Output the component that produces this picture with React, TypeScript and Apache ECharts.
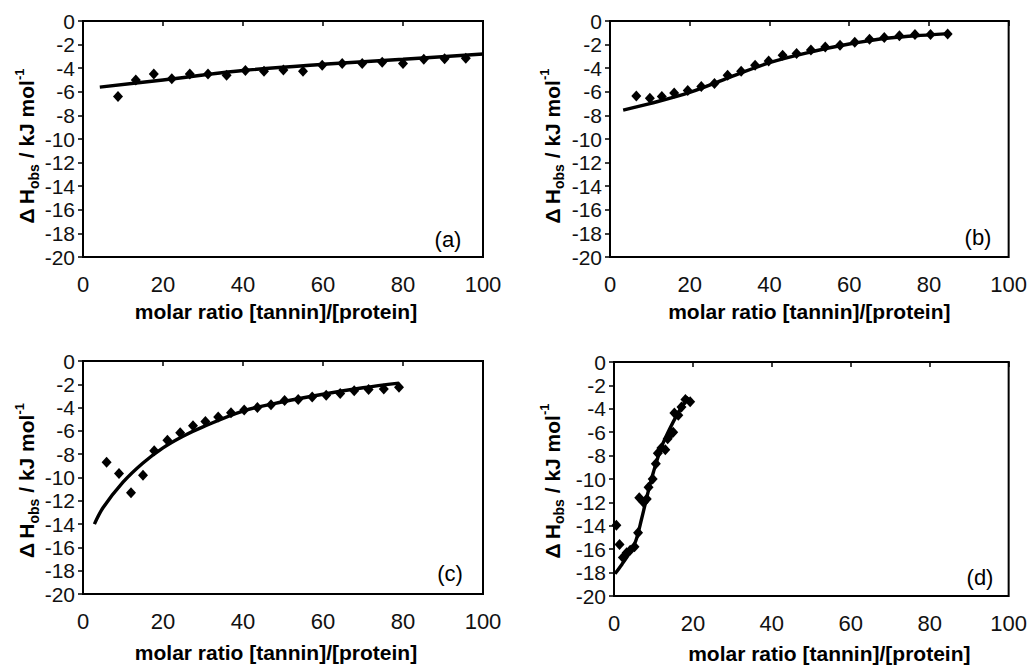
import React, { useEffect, useRef } from "react";
import * as echarts from "echarts";

// ---------- data ----------
const xTickMin = 0;
const xTickMax = 100;
const xTickStep = 20;
const yTickMin = -20;
const yTickMax = 0;
const yTickStep = 2;

const xTitle = "molar ratio [tannin]/[protein]";
const panelTags = ["(a)", "(b)", "(c)", "(d)"];

// panel (a)
const aPointsX = [8.75, 13.2, 17.7, 22.2, 26.7, 31.25, 35.9, 40.6, 45.25, 50.1, 55, 59.8, 64.8, 69.8, 74.8, 80, 85.2, 90.4, 95.7];
const aPointsY = [-6.4, -5.0, -4.5, -4.9, -4.5, -4.5, -4.6, -4.2, -4.25, -4.15, -4.25, -3.75, -3.6, -3.6, -3.5, -3.6, -3.25, -3.2, -3.15];
const aFitX = [4.2, 20, 40, 60, 80, 100];
const aFitY = [-5.6, -5.0, -4.2, -3.67, -3.24, -2.8];

// panel (b)
const bPointsX = [6.6, 10, 13, 16.1, 19.5, 22.9, 26.2, 29.5, 32.9, 36.4, 39.8, 43.3, 46.8, 50.4, 54, 57.7, 61.4, 65.1, 68.8, 72.6, 76.5, 80.4, 84.7];
const bPointsY = [-6.35, -6.55, -6.4, -6.1, -5.9, -5.55, -5.3, -4.6, -4.25, -3.75, -3.4, -2.9, -2.75, -2.45, -2.2, -2.05, -1.8, -1.55, -1.4, -1.25, -1.15, -1.15, -1.1];
const bFitX = [3.3, 10, 20, 30, 40, 50, 60, 70, 80, 85];
const bFitY = [-7.55, -7.0, -6.05, -4.77, -3.53, -2.65, -1.95, -1.44, -1.18, -1.07];

// panel (c)
const cPointsX = [5.9, 9, 12, 15, 17.8, 21.1, 24.3, 27.5, 30.6, 33.8, 37, 40.3, 43.6, 47, 50.4, 53.8, 57.3, 60.8, 64.3, 67.8, 71.4, 75.2, 79];
const cPointsY = [-8.7, -9.65, -11.3, -9.8, -7.7, -6.8, -6.15, -5.55, -5.2, -4.8, -4.45, -4.2, -4.0, -3.75, -3.4, -3.3, -3.1, -2.95, -2.8, -2.55, -2.45, -2.4, -2.25];
const cFitX = [2.85, 5, 10, 15, 20, 25, 30, 40, 50, 60, 70, 79];
const cFitY = [-14, -12.6, -10.4, -8.75, -7.45, -6.45, -5.65, -4.3, -3.5, -2.85, -2.3, -1.9];

// panel (d)
const dPointsX = [0.6, 1.4, 2.25, 3.2, 4.1, 5.2, 6.1, 6.4, 7.5, 8.3, 8.75, 9.8, 10.6, 11.1, 12, 13, 13.6, 14.6, 15, 15.3, 16.3, 17.1, 18.1, 19.3];
const dPointsY = [-13.95, -15.6, -16.7, -16.3, -16.1, -15.8, -14.6, -11.6, -12.0, -11.7, -10.7, -10.0, -8.7, -7.8, -7.35, -7.5, -6.55, -6.1, -6.0, -4.35, -4.55, -3.85, -3.2, -3.4];
const dFitX = [0.25, 2, 4, 5.5, 7, 8.5, 10, 12, 14, 16, 18, 18.9];
const dFitY = [-18.1, -17.3, -16.3, -15.3, -13.4, -11.3, -9.4, -7.3, -5.8, -4.5, -3.4, -3.0];

// ---------- layout / style ----------
const FONT = '"Liberation Sans", Arial, sans-serif';
const grids = [
  { left: 83, top: 21, width: 400, height: 236 },
  { left: 610, top: 21, width: 403, height: 236 },
  { left: 83, top: 361, width: 400, height: 233 },
  { left: 614, top: 362, width: 400, height: 234 },
];
const xNameGaps = [44, 44, 48, 47];
const xNamePads = [[0, 14, 0, 0], [0, 0, 0, 0], [0, 14, 0, 0], [0, 0, 0, 36]];
const yNameGaps = [38, 44, 38, 48];
const yNamePads = [[0, 14, 0, 0], [0, 14, 0, 0], [0, 6, 0, 0], [0, 4, 0, 0]];
const tagPos = [
  [448, 239],
  [978, 237],
  [450, 573],
  [980, 577],
];

const zip = (xs: number[], ys: number[]) => xs.map((x, i) => [x, ys[i]]);

const panels = [
  { px: aPointsX, py: aPointsY, fx: aFitX, fy: aFitY },
  { px: bPointsX, py: bPointsY, fx: bFitX, fy: bFitY },
  { px: cPointsX, py: cPointsY, fx: cFitX, fy: cFitY },
  { px: dPointsX, py: dPointsY, fx: dFitX, fy: dFitY },
];

function buildOption() {
  const axisLine = { show: true, lineStyle: { color: "#000", width: 2 } };
  const axisTick = { show: true, length: 5, lineStyle: { color: "#000", width: 1.5 } };
  const xAxis = grids.map((_, i) => ({
    type: "value",
    gridIndex: i,
    min: xTickMin,
    max: xTickMax,
    interval: xTickStep,
    axisLine,
    axisTick,
    splitLine: { show: false },
    axisLabel: { color: "#111", fontSize: 22, fontFamily: FONT, margin: 16 },
    name: xTitle,
    nameLocation: "middle",
    nameGap: xNameGaps[i],
    nameTextStyle: {
      color: "#000",
      fontSize: 21,
      fontWeight: "bold",
      fontFamily: FONT,
      padding: xNamePads[i],
    },
  }));
  const yAxis = grids.map((_, i) => ({
    type: "value",
    gridIndex: i,
    min: yTickMin,
    max: yTickMax,
    interval: yTickStep,
    axisLine,
    axisTick,
    splitLine: { show: false },
    axisLabel: { color: "#111", fontSize: 21, fontFamily: FONT, margin: 8 },
    name: "{m|Δ\u2009H}{s|obs}{m| / kJ mol}{p|-1}",
    nameLocation: "middle",
    nameGap: yNameGaps[i],
    nameTextStyle: {
      color: "#000",
      fontSize: 21,
      fontWeight: "bold",
      fontFamily: FONT,
      padding: yNamePads[i],
      rich: {
        m: { fontSize: 21, fontWeight: "bold", fontFamily: FONT, color: "#000", lineHeight: 28 },
        s: { fontSize: 14, fontWeight: "bold", fontFamily: FONT, color: "#000", lineHeight: 15, verticalAlign: "bottom" },
        p: { fontSize: 13, fontWeight: "bold", fontFamily: FONT, color: "#000", lineHeight: 17, verticalAlign: "top" },
      },
    },
  }));
  const series: any[] = [];
  panels.forEach((p, i) => {
    series.push({
      type: "line",
      xAxisIndex: i,
      yAxisIndex: i,
      data: zip(p.fx, p.fy),
      showSymbol: false,
      smooth: 0.35,
      lineStyle: { color: "#000", width: 3.4 },
      z: 2,
    });
    series.push({
      type: "scatter",
      xAxisIndex: i,
      yAxisIndex: i,
      data: zip(p.px, p.py),
      symbol: "diamond",
      symbolSize: [10, 11],
      itemStyle: { color: "#000", opacity: 1 },
      z: 3,
    });
  });
  return {
    animation: false,
    backgroundColor: "#fff",
    grid: grids.map((g) => ({ ...g, show: true, borderColor: "#000", borderWidth: 2, backgroundColor: "transparent" })),
    xAxis,
    yAxis,
    series,
    graphic: panelTags.map((t, i) => ({
      type: "text",
      x: tagPos[i][0],
      y: tagPos[i][1],
      style: {
        text: t,
        font: `22px ${FONT}`,
        fill: "#000",
        textAlign: "center",
        textVerticalAlign: "middle",
        align: "center",
        verticalAlign: "middle",
      },
    })),
  };
}

export default function App() {
  const ref = useRef<HTMLDivElement>(null);
  useEffect(() => {
    if (!ref.current) return;
    const chart = echarts.init(ref.current, undefined, { renderer: "svg" });
    chart.setOption(buildOption() as any);
    return () => chart.dispose();
  }, []);
  return (
    <div
      ref={ref}
      style={{ position: "fixed", left: 0, top: 0, width: 1030, height: 667, background: "#fff" }}
    />
  );
}
